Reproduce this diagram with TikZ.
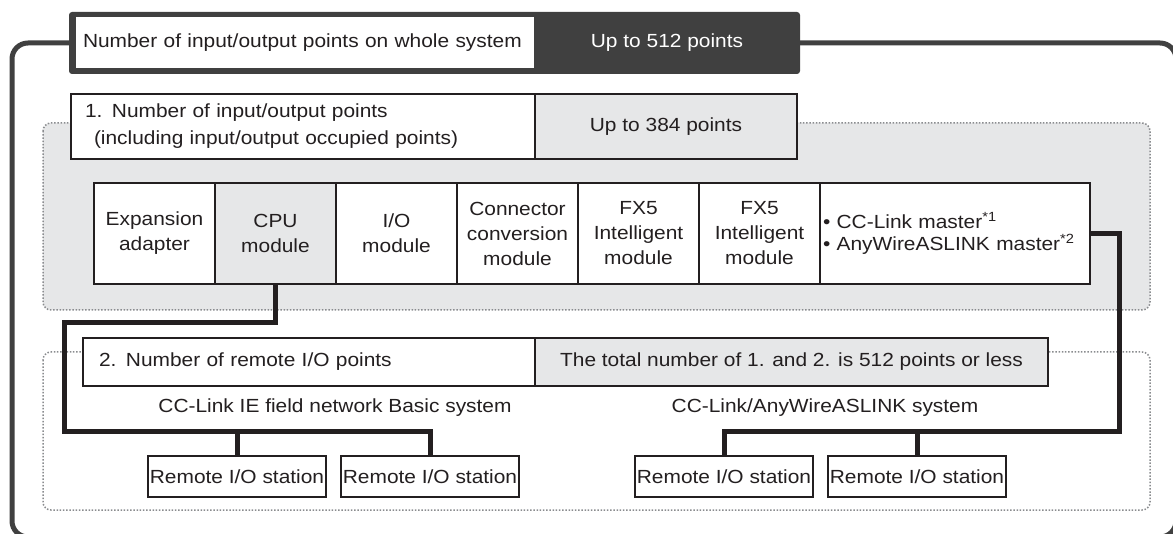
\documentclass[tikz,border=0pt]{standalone}
\usepackage{fontspec}
\setmainfont[FakeStretch=1.1]{Liberation Sans}
\usetikzlibrary{positioning}

\definecolor{headdark}{HTML}{404040}
\definecolor{panelgray}{HTML}{E6E7E8}
\definecolor{dotgray}{HTML}{8A8C8F}
\definecolor{inkblack}{HTML}{231F20}

\begin{document}
\begin{tikzpicture}[
			x=1pt, y=-1pt,
			every node/.style={
					font=\fontsize{19}{25}\selectfont,
					inner sep=0pt,
					outer sep=0pt,
					text=inkblack
				},
			cell/.style={draw=inkblack, line width=1.3pt, fill=white},
			module/.style={cell, minimum width=121pt, minimum height=101pt, align=center},
			station/.style={cell, minimum width=178pt, minimum height=41pt},
			area/.style={draw=dotgray, line width=1.5pt, dash pattern=on 1.5pt off 1.7pt, rounded corners=8pt},
			link/.style={draw=inkblack, line width=5pt}
		]

		\useasboundingbox (0,0) rectangle (1173,534);

		% whole system frame
		\draw[headdark, line width=5pt, rounded corners=16pt] (12,43) rectangle (1176,537);

		\node (head) [fill=headdark, rounded corners=3pt, minimum width=731pt,
			minimum height=62pt, anchor=north west] at (69,12) {};
		\node (headl) [fill=white, minimum height=51pt, text width=444pt,
			inner xsep=7pt, align=left, anchor=north west] at (76,17.3)
		{Number of input/output points on whole system};
		\node (headv) [text=white] at (667,43) {Up to 512 points};

		% backgrounds
		\draw[area, fill=panelgray] (43,123) rectangle (1150,310);
		\draw[area, fill=white] (43,352) rectangle (1150,510);

		% 1. input/output points
		\node (cnt) [cell, anchor=north west, minimum height=65pt, text width=436pt,
			inner xsep=14pt, align=left, font=\fontsize{19}{27}\selectfont] at (71,94)
		{1. Number of input/output points\\\hspace*{9pt}(including input/output occupied points)};
		\node (cntv) [cell, fill=panelgray, right=0pt of cnt, minimum width=262pt,
			minimum height=65pt]
		{Up to 384 points};

		\node (adp) [module, anchor=north west] at (94,183) {Expansion\\adapter};
		\node (cpu) [module, fill=panelgray, right=0pt of adp] {CPU\\module};
		\node (iom) [module, right=0pt of cpu] {I/O\\module};
		\node (conv) [module, right=0pt of iom] {Connector\\conversion\\module};
		\node (fxa) [module, right=0pt of conv] {FX5\\Intelligent\\module};
		\node (fxb) [module, right=0pt of fxa] {FX5\\Intelligent\\module};
		\node (ccm) [cell, right=0pt of fxb, minimum height=101pt, text width=264pt,
			inner xsep=3pt, align=left, font=\fontsize{19}{22}\selectfont]
		{\textbullet\ CC-Link master\textsuperscript{*1}\\\textbullet\ AnyWireASLINK master\textsuperscript{*2}};

		% 2. remote points
		\node (rem) [cell, anchor=north west, minimum height=48pt, text width=420pt,
			inner xsep=16pt, align=left] at (83,338)
		{2. Number of remote I/O points};
		\node (remv) [cell, fill=panelgray, right=0pt of rem, minimum width=513pt,
			minimum height=48pt]
		{The total number of 1. and 2. is 512 points or less};

		\node (ienet) at (335,408) {CC-Link IE field network Basic system};
		\node (awnet) at (825,408) {CC-Link/AnyWireASLINK system};

		\node (st1) [station, anchor=north west] at (148,456) {Remote I/O station};
		\node (st2) [station, anchor=north west] at (341,456) {Remote I/O station};
		\node (st3) [station, anchor=north west] at (635,456) {Remote I/O station};
		\node (st4) [station, anchor=north west] at (828,456) {Remote I/O station};

		% network lines
		\coordinate (ljog) at (64,323);
		\coordinate (lbus) at (64,432);
		\coordinate (rbus) at (1119,432);

		\draw[link] (cpu.south) |- (ljog) -- (lbus) -| (st2.north);
		\draw[link] (st1.north) -- (st1.north |- lbus);
		\draw[link] (ccm.east) -| (rbus) -| (st3.north);
		\draw[link] (st4.north) -- (st4.north |- rbus);

	\end{tikzpicture}
\end{document}
